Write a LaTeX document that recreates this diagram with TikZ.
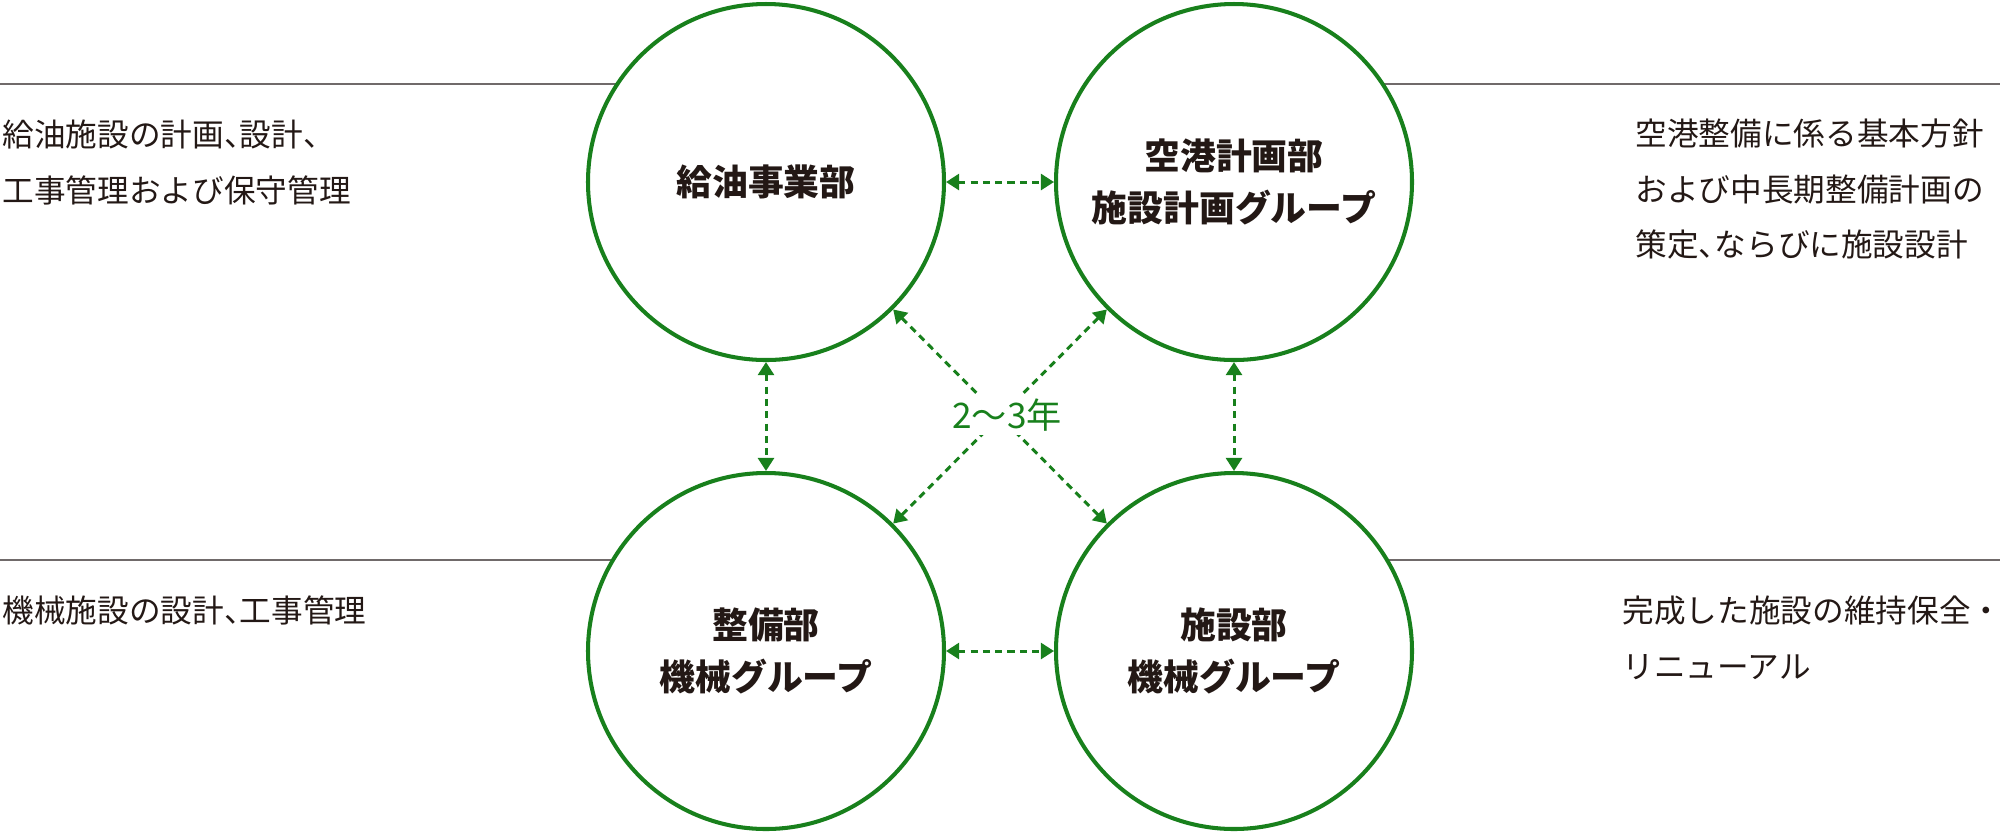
\documentclass[tikz,border=0pt]{standalone}
\usepackage{fontspec}
\setmainfont{Noto Sans CJK JP}
\usetikzlibrary{arrows.meta}
\definecolor{grn}{RGB}{24,128,28}
\definecolor{ink}{RGB}{35,24,21}
\definecolor{rulegray}{RGB}{112,106,106}
\newcommand{\hcm}{\makebox[0.5em][l]{、}}
\pgfdeclarelayer{bg}
\pgfsetlayers{bg,main}

\begin{document}
\begin{tikzpicture}[
    dept/.style={circle, draw=grn, line width=1.15pt, fill=white, minimum size=3.56cm,
        inner sep=0pt, align=center, text=ink, font=\bfseries\fontsize{10.2pt}{14.8pt}\selectfont},
    note/.style={anchor=west, align=left, inner sep=0pt, text=ink,
        font=\fontsize{9pt}{15.9pt}\selectfont},
    link/.style={draw=grn, line width=0.85pt, dash pattern=on 2pt off 1.5pt,
        {Triangle[length=3.7pt,width=4.5pt]}-{Triangle[length=3.7pt,width=4.5pt]}}
    ]
            \useasboundingbox (0,0) rectangle (20,-8.33);
            % the four departments
            \node[dept] (fuel) at (7.66,-1.82) {給油事業部};
            \node[dept] (plan) at (12.34,-1.82) {空港計画部\\施設計画グループ};
            \node[dept] (mech) at (7.66,-6.51) {整備部\\機械グループ};
            \node[dept] (fac) at (12.34,-6.51) {施設部\\機械グループ};
            % what each one does
            \node[note] (fuelnote) at (0.02,-1.625) {給油施設の計画\hcm 設計\hcm\\工事管理および保守管理};
            \node[note] (mechnote) at (0.02,-6.10) {機械施設の設計\hcm 工事管理};
            \node[note] (plannote) at (16.35,-1.89) {空港整備に係る基本方針\\および中長期整備計画の\\策定\hcm ならびに施設設計};
            \node[note] (facnote) at (16.22,-6.375) {完成した施設の維持保全・\\リニューアル};
            % rotation between them
            \draw[link] (fuel) -- (plan);
            \draw[link] (mech) -- (fac);
            \draw[link] (fuel) -- (mech);
            \draw[link] (plan) -- (fac);
            \draw[link] (fuel) -- (fac);
            \draw[link] (plan) -- (mech);
            \node[fill=white, inner sep=1pt, text=grn, font=\fontsize{10pt}{12pt}\selectfont] (term) at (10.07,-4.15) {2〜3年};
            % rules behind the circles
            \coordinate (wA) at (0,-0.84);
            \coordinate (eA) at (20,-0.84);
            \coordinate (wB) at (0,-5.60);
            \coordinate (eB) at (20,-5.60);
            \begin{pgfonlayer}{bg}
            \draw[rulegray, line width=0.6pt] (wA) -- (fuel |- wA);
            \draw[rulegray, line width=0.6pt] (plan |- eA) -- (eA);
            \draw[rulegray, line width=0.6pt] (wB) -- (mech |- wB);
            \draw[rulegray, line width=0.6pt] (fac |- eB) -- (eB);
            \end{pgfonlayer}
\end{tikzpicture}
\end{document}
